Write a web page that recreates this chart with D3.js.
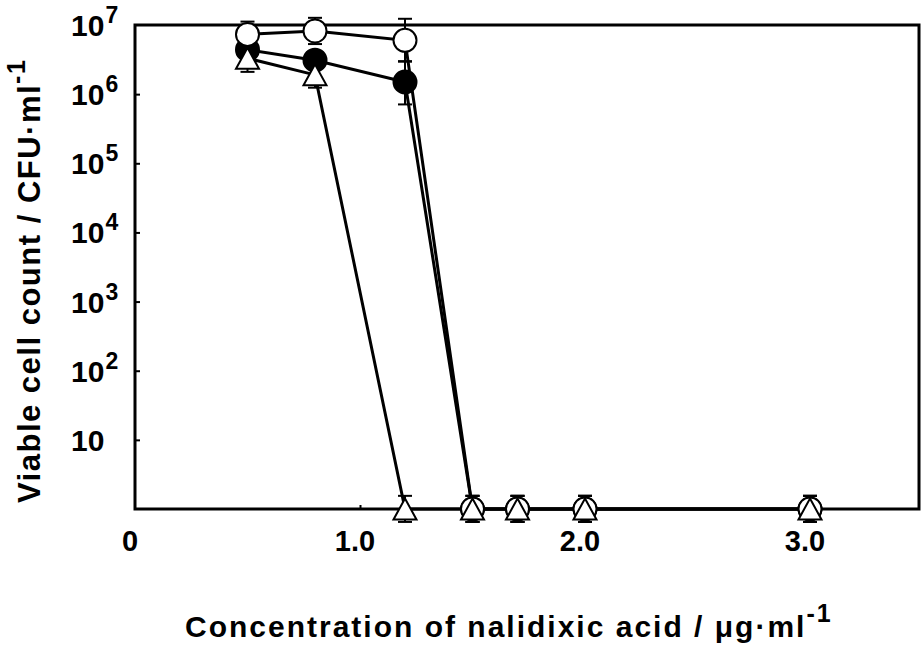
<!DOCTYPE html>
<html>
<head>
<meta charset="utf-8">
<script src="https://cdn.jsdelivr.net/npm/d3@7"></script>
<style>
  html, body { margin: 0; padding: 0; background: #fff; }
  svg { display: block; font-family: "Liberation Sans", Arial, sans-serif; font-weight: bold; }
</style>
</head>
<body>
<svg id="chart" width="922" height="647"></svg>
<script>
// ---- data ----
const concentrations = [0.5, 0.8, 1.2, 1.5, 1.7, 2.0, 3.0];

const openValues  = [7.3e6, 8.2e6, 6.0e6, 1, 1, 1, 1];
const openUpper   = [1.12e7, 1.27e7, 1.23e7, 1.55, 1.55, 1.55, 1.55];
const openLower   = [4.8e6, 5.3e6, 2.95e6, 0.65, 0.65, 0.65, 0.65];

const filledValues = [4.4e6, 3.1e6, 1.5e6, 1, 1, 1, 1];
const filledUpper  = [6.0e6, 4.1e6, 3.0e6, 1.55, 1.55, 1.55, 1.55];
const filledLower  = [3.1e6, 2.35e6, 7.1e5, 0.65, 0.65, 0.65, 0.65];

const triValues = [3.3e6, 1.9e6, 1, 1, 1, 1, 1];
const triUpper  = [5.1e6, 2.9e6, 1.55, 1.55, 1.55, 1.55, 1.55];
const triLower  = [2.1e6, 1.24e6, 0.65, 0.65, 0.65, 0.65, 0.65];

const xTickValues = [0, 1, 2, 3];
const xTickLabels = ["0", "1.0", "2.0", "3.0"];
const yTickValues = [10, 1e2, 1e3, 1e4, 1e5, 1e6, 1e7];
const yTickExponents = ["", "2", "3", "4", "5", "6", "7"];

// ---- layout ----
const svg = d3.select("#chart");
const mLeft = 135, mRight = 919, mTop = 25, mBottom = 509;

const x = d3.scaleLinear().domain([0, 3.5]).range([mLeft, mLeft + 3.5 * 225]);
const y = d3.scaleLog().domain([1, 1e7]).range([mBottom, mTop]);

function series(values, upper, lower) {
  return concentrations.map((c, i) => ({ c, v: values[i], hi: upper[i], lo: lower[i] }));
}
const openS = series(openValues, openUpper, openLower);
const filledS = series(filledValues, filledUpper, filledLower);
const triS = series(triValues, triUpper, triLower);

// frame
svg.append("rect")
  .attr("x", mLeft).attr("y", mTop)
  .attr("width", mRight - mLeft).attr("height", mBottom - mTop)
  .attr("fill", "none").attr("stroke", "#000").attr("stroke-width", 3);

// y ticks (inward)
const yAxis = svg.append("g").attr("transform", `translate(${mLeft},0)`)
  .call(d3.axisLeft(y).tickValues([10, 1e2, 1e3, 1e4, 1e5, 1e6]).tickSize(-5).tickFormat(""));
yAxis.select(".domain").remove();
yAxis.selectAll("line").attr("stroke-width", 2);

// x ticks (inward)
const xAxis = svg.append("g").attr("transform", `translate(0,${mBottom})`)
  .call(d3.axisBottom(x).tickValues([1, 2, 3]).tickSize(-4).tickFormat(""));
xAxis.select(".domain").remove();
xAxis.selectAll("line").attr("stroke-width", 2);

// y tick labels
yTickValues.forEach((v, i) => {
  const t = svg.append("text")
    .attr("x", 71).attr("y", y(v) + 11)
    .attr("font-size", 30).attr("fill", "#000");
  t.append("tspan").text("10");
  if (yTickExponents[i]) {
    t.append("tspan").attr("font-size", 23).attr("dy", -13).attr("dx", 1).text(yTickExponents[i]);
  }
});

// x tick labels
xTickValues.forEach((v, i) => {
  svg.append("text")
    .attr("x", x(v) - 5).attr("y", 551)
    .attr("text-anchor", "middle")
    .attr("font-size", 29).attr("fill", "#000")
    .text(xTickLabels[i]);
});

// axis titles
const xt = svg.append("text")
  .attr("x", 185).attr("y", 637)
  .attr("font-size", 30).attr("letter-spacing", 2).attr("fill", "#000");
xt.append("tspan").text("Concentration of nalidixic acid / μg·ml");
xt.append("tspan").attr("font-size", 25).attr("dy", -15).text("-1");

const yt = svg.append("text")
  .attr("transform", "translate(40,503) rotate(-90)")
  .attr("x", 0).attr("y", 0)
  .attr("font-size", 31).attr("letter-spacing", 1.5).attr("fill", "#000");
yt.append("tspan").text("Viable cell count / CFU·ml");
yt.append("tspan").attr("font-size", 25).attr("dy", -15).text("-1");

// lines
const line = d3.line().x(d => x(d.c)).y(d => y(d.v));
[filledS, openS, triS].forEach(s => {
  svg.append("path").datum(s).attr("d", line)
    .attr("fill", "none").attr("stroke", "#000").attr("stroke-width", 3);
});

// error bars
const capW = 7;
[filledS, openS, triS].forEach(s => {
  const g = svg.append("g").attr("stroke", "#000").attr("stroke-width", 2);
  s.forEach(d => {
    g.append("line").attr("x1", x(d.c)).attr("x2", x(d.c)).attr("y1", y(d.hi)).attr("y2", y(d.lo));
    g.append("line").attr("x1", x(d.c) - capW).attr("x2", x(d.c) + capW).attr("y1", y(d.hi)).attr("y2", y(d.hi));
    g.append("line").attr("x1", x(d.c) - capW).attr("x2", x(d.c) + capW).attr("y1", y(d.lo)).attr("y2", y(d.lo));
  });
});

// markers
svg.append("g").selectAll("circle").data(filledS).join("circle")
  .attr("cx", d => x(d.c)).attr("cy", d => y(d.v)).attr("r", 11.5)
  .attr("fill", "#000").attr("stroke", "#000").attr("stroke-width", 2);

svg.append("g").selectAll("circle").data(openS).join("circle")
  .attr("cx", d => x(d.c)).attr("cy", d => y(d.v)).attr("r", 11.5)
  .attr("fill", "#fff").attr("stroke", "#000").attr("stroke-width", 2);

const tw = 11.5, th = 10.5;
svg.append("g").selectAll("path").data(triS).join("path")
  .attr("d", d => {
    const cx = x(d.c), cy = y(d.v);
    return `M${cx},${cy - th}L${cx + tw},${cy + th}L${cx - tw},${cy + th}Z`;
  })
  .attr("fill", "#fff").attr("stroke", "#000").attr("stroke-width", 2);
</script>
</body>
</html>
